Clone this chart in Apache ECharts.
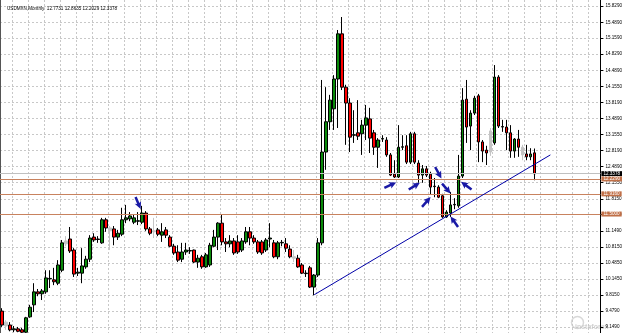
<!DOCTYPE html>
<html>
<head>
<meta charset="utf-8">
<script src="https://cdn.jsdelivr.net/npm/echarts@6/dist/echarts.min.js"></script>
<style>
html, body { margin: 0; padding: 0; background: #fff; }
#chart { width: 625px; height: 333px; }
</style>
</head>
<body>
<div id="chart"></div>
<script>
// USDMXN monthly candles, Feb 2002 .. Mar 2013 : [open, close, low, high]
const candles = [
  [9.48, 9.19, 9.15, 9.54], [9.25, 9.17, 9.09, 9.29], [9.19, 9.09, 9.06, 9.25], [9.09, 9.11, 9.04, 9.17],
  [9.11, 9.06, 9.04, 9.15], [9.09, 9.04, 9.02, 9.13], [9.04, 9.34, 9.02, 9.36], [9.36, 9.56, 9.34, 9.61],
  [9.61, 9.88, 9.46, 10.06], [9.88, 9.84, 9.79, 9.94], [9.84, 9.90, 9.71, 9.94], [9.88, 10.17, 9.84, 10.33],
  [10.15, 10.16, 9.96, 10.33], [10.13, 10.09, 10.02, 10.38], [10.06, 10.44, 10.02, 10.54], [10.33, 10.90, 10.29, 10.96],
  [10.94, 10.88, 10.83, 11.04], [10.98, 10.73, 10.69, 11.23], [10.75, 10.25, 10.19, 10.79], [10.27, 10.29, 10.21, 10.38],
  [10.27, 10.42, 10.06, 10.79], [10.40, 10.56, 10.36, 10.63], [10.56, 11.00, 10.50, 11.06], [11.02, 10.96, 10.92, 11.10],
  [10.98, 10.97, 10.90, 11.04], [10.90, 11.38, 10.88, 11.42], [11.38, 11.21, 11.13, 11.42], [11.21, 11.15, 10.75, 11.25],
  [11.19, 11.02, 10.85, 11.25], [11.02, 11.10, 10.96, 11.17], [11.08, 11.38, 11.04, 11.63], [11.38, 11.42, 11.31, 11.69],
  [11.40, 11.46, 11.35, 11.54], [11.33, 11.42, 11.29, 11.48], [11.35, 11.36, 11.27, 11.54], [11.33, 11.52, 11.29, 11.67],
  [11.52, 11.19, 11.15, 11.56], [11.19, 11.10, 11.06, 11.23], [11.15, 11.13, 11.00, 11.42], [11.17, 11.08, 11.04, 11.21],
  [11.06, 11.13, 10.92, 11.31], [11.17, 11.06, 11.00, 11.23], [11.02, 10.83, 10.81, 11.06], [10.83, 10.69, 10.65, 10.88],
  [10.71, 10.54, 10.50, 10.85], [10.56, 10.71, 10.50, 10.90], [10.71, 10.75, 10.65, 10.90], [10.73, 10.74, 10.67, 10.81],
  [10.75, 10.50, 10.48, 10.76], [10.50, 10.58, 10.38, 10.65], [10.61, 10.40, 10.36, 10.65], [10.40, 10.65, 10.38, 10.69],
  [10.44, 10.85, 10.40, 10.90], [10.83, 11.02, 10.81, 11.17], [11.02, 11.31, 10.75, 11.33], [11.31, 10.92, 10.85, 11.50],
  [10.92, 10.88, 10.71, 11.00], [10.88, 10.94, 10.81, 11.06], [10.94, 10.69, 10.65, 11.00], [10.92, 10.71, 10.67, 11.06],
  [10.75, 10.94, 10.71, 11.00], [10.92, 11.13, 10.88, 11.23], [11.13, 11.00, 10.85, 11.23], [11.00, 10.92, 10.88, 11.06],
  [10.92, 10.71, 10.67, 10.96], [10.92, 10.69, 10.65, 10.96], [10.75, 10.96, 10.71, 11.00], [10.98, 11.00, 10.81, 11.31],
  [10.90, 10.61, 10.58, 10.96], [10.61, 10.90, 10.56, 10.94], [10.90, 10.91, 10.83, 10.96], [10.88, 10.79, 10.71, 11.00],
  [10.77, 10.61, 10.58, 10.85], [10.61, 10.58, 10.50, 10.75], [10.58, 10.40, 10.38, 10.65], [10.44, 10.27, 10.25, 10.48],
  [10.27, 10.26, 10.19, 10.33], [10.38, 9.98, 9.96, 10.42], [9.98, 10.23, 9.81, 10.25], [10.23, 10.90, 10.19, 11.00],
  [10.90, 12.79, 10.85, 14.29], [12.79, 13.42, 12.42, 14.14], [13.42, 13.87, 13.25, 13.98], [13.69, 14.31, 13.25, 14.39],
  [14.31, 15.25, 13.29, 15.33], [15.25, 14.14, 14.08, 15.60], [14.14, 13.81, 12.94, 14.19], [13.81, 13.10, 12.79, 13.91],
  [13.14, 13.15, 12.98, 13.66], [13.19, 13.12, 13.04, 13.87], [13.17, 13.35, 12.73, 13.46], [13.35, 13.50, 13.04, 13.77],
  [13.48, 13.08, 12.77, 13.71], [13.19, 12.89, 12.73, 13.25], [12.89, 13.04, 12.46, 13.08], [13.06, 13.07, 13.00, 13.14],
  [13.04, 12.73, 12.69, 13.10], [12.73, 12.31, 12.29, 12.77], [12.33, 12.27, 12.25, 12.62], [12.27, 12.89, 12.25, 13.35],
  [12.89, 12.90, 12.83, 13.14], [12.92, 12.58, 12.54, 13.14], [12.58, 13.17, 12.54, 13.21], [13.17, 12.58, 12.54, 13.21],
  [12.56, 12.31, 12.15, 12.62], [12.31, 12.44, 12.15, 12.52], [12.44, 12.31, 12.27, 12.50], [12.33, 12.06, 11.90, 12.38],
  [12.08, 12.07, 11.85, 12.25], [12.06, 11.85, 11.83, 12.10], [11.88, 11.44, 11.42, 11.92], [11.44, 11.54, 11.42, 11.58],
  [11.52, 11.69, 11.44, 11.96], [11.69, 11.70, 11.60, 11.83], [11.67, 12.29, 11.63, 12.73], [12.29, 13.87, 12.25, 14.12],
  [13.89, 13.31, 12.98, 14.29], [13.33, 13.60, 12.83, 13.66], [13.60, 13.91, 13.56, 13.96], [13.96, 13.00, 12.58, 14.00],
  [13.00, 12.81, 12.58, 13.04], [12.83, 12.77, 12.52, 12.92], [13.23, 12.79, 12.71, 13.29], [12.98, 14.35, 12.94, 14.60],
  [14.35, 13.33, 13.29, 14.39], [13.31, 13.32, 13.21, 13.46], [13.31, 13.19, 12.83, 13.46], [13.19, 12.81, 12.67, 13.35],
  [12.81, 13.06, 12.67, 13.08], [13.06, 12.89, 12.69, 13.25], [12.89, 12.73, 12.62, 12.94], [12.75, 12.69, 12.62, 12.94],
  [12.69, 12.75, 12.62, 12.87], [12.7731, 12.3378, 12.2029, 12.8635]
]
// bars that show up pale grey in the screenshot
const greyBars = [1, 16, 27, 38, 73, 122, 130]

// right price scale
const tickLabels = ['15.8290', '15.4890', '15.1590', '14.8290', '14.4890', '14.1550', '13.8190', '13.4890',
  '13.1550', '12.8190', '12.4890', '12.1550', '11.8150', '11.4890', '11.1490', '10.8150', '10.4850',
  '10.1450', '9.8150', '9.4790', '9.1490']

// horizontal levels drawn on the chart
const levels = [12.2290, 11.9160, 11.5000]
const lastPrice = 12.3378

// trend line: [bar index, price]
const trendLine = [[78, 9.82], [137, 12.73]]

// arrows: [bar index, price, rotation]
const arrows = [
  [34, 11.73, -157], [97, 12.10, -65], [103, 12.08, -59], [106, 11.75, -41],
  [109, 12.36, -151], [111, 12.03, -139], [116, 12.09, 54], [113, 11.34, 35]
]

const months = []
for (let k = 0; k < 150; k++) {
  const m = 1 + k
  months.push((2002 + Math.floor(m / 12)) + '.' + String(m % 12 + 1).padStart(2, '0'))
}

const chart = echarts.init(document.getElementById('chart'))
const font = 'Liberation Sans'
const fs = 4.6

const candleData = candles.map((c, i) => greyBars.includes(i)
  ? { value: c, itemStyle: { color: '#c4c4c4', color0: '#c4c4c4', borderColor: '#c4c4c4', borderColor0: '#c4c4c4' } }
  : c)

const levelLines = levels.map(v => ({
  yAxis: v,
  lineStyle: { color: '#c8825e', width: 1, type: 'solid' },
  label: { show: true, position: 'end', distance: 1, formatter: v.toFixed(4),
    backgroundColor: '#c07048', color: '#fff', fontSize: fs, fontFamily: font, padding: [0, 2, 0, 2] }
}))

const option = {
  animation: false,
  backgroundColor: '#fff',
  title: {
    text: 'USDMXN,Monthly  12.7731 12.8635 12.2029 12.3378',
    left: 2, top: 1,
    textStyle: { fontSize: fs, fontWeight: 'normal', color: '#000', fontFamily: font }
  },
  grid: { left: 0, right: 23, top: 0, bottom: 0 },
  xAxis: {
    type: 'category',
    data: months,
    boundaryGap: true,
    axisLine: { show: false },
    axisTick: { show: false },
    axisLabel: { show: false },
    splitLine: {
      show: true,
      interval: (idx) => idx % 4 === 3,
      lineStyle: { color: '#c8c8c8', type: [2, 2], width: 1 }
    }
  },
  yAxis: [{
    type: 'value',
    position: 'right',
    min: 9.024,
    max: 15.954,
    axisLine: { show: true, lineStyle: { color: '#000', width: 1 } },
    axisTick: { show: true, length: 3, lineStyle: { color: '#000' }, customValues: tickLabels.map(Number) },
    axisLabel: {
      customValues: tickLabels.map(Number),
      formatter: (v) => v.toFixed(4),
      fontSize: fs, fontFamily: font, color: '#000', margin: 5
    },
    splitLine: { show: true, lineStyle: { color: '#c8c8c8', type: [2, 2], width: 1 } }
  }, {
    type: 'value',
    position: 'left',
    min: 9.024,
    max: 15.954,
    axisLine: { show: true, onZero: false, lineStyle: { color: '#555', width: 1 } },
    axisTick: { show: false },
    axisLabel: { show: false },
    splitLine: { show: false }
  }],
  series: [{
    type: 'candlestick',
    data: candleData,
    barWidth: 3,
    itemStyle: {
      color: '#0a8a0a', color0: '#ff0000',
      borderColor: '#000', borderColor0: '#000', borderWidth: 1
    },
    markLine: {
      silent: true,
      symbol: ['none', 'none'],
      animation: false,
      data: [
        {
          yAxis: lastPrice,
          lineStyle: { color: '#c0c0c0', width: 1, type: 'solid' },
          label: { show: true, position: 'end', distance: 1, formatter: lastPrice.toFixed(4),
            backgroundColor: '#000', color: '#fff', fontSize: fs, fontFamily: font, padding: [0, 2, 0, 2] }
        },
        ...levelLines,
        [
          { coord: trendLine[0], lineStyle: { color: '#0000a8', width: 1, type: 'solid' }, label: { show: false } },
          { coord: trendLine[1] }
        ]
      ]
    }
  }, {
    type: 'scatter',
    data: arrows.map(a => ({ value: [a[0], a[1]], symbolRotate: a[2] })),
    symbol: 'path://M5,0 L10,7 L6.8,6 L6.8,13 L3.2,13 L3.2,6 L0,7 Z',
    symbolSize: [9, 13],
    symbolKeepAspect: true,
    itemStyle: { color: '#1a1aa6', opacity: 1 },
    silent: true,
    z: 5
  }],
  graphic: [{
    type: 'circle', left: 569, top: 314,
    shape: { r: 6 },
    style: { fill: 'none', stroke: '#d8d8d8', lineWidth: 1.5 }
  }, {
    type: 'text', left: 575, top: 324,
    style: { text: 'instaforex', fill: '#d0d0d0', fontSize: 7, fontFamily: font, fontWeight: 'bold' }
  }]
}
chart.setOption(option)
</script>
</body>
</html>
